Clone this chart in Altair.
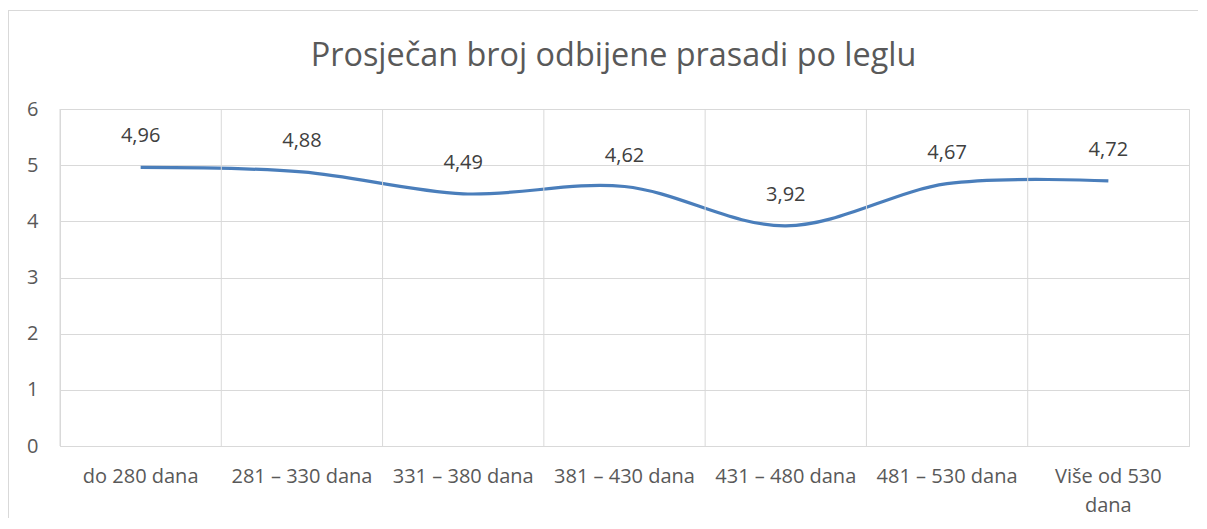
import altair as alt
import pandas as pd

categories = ["do 280 dana", "281 – 330 dana", "331 – 380 dana", "381 – 430 dana",
              "431 – 480 dana", "481 – 530 dana", "Više od 530 dana"]
values = [4.96, 4.88, 4.49, 4.62, 3.92, 4.67, 4.72]
labels = ["4,96", "4,88", "4,49", "4,62", "3,92", "4,67", "4,72"]

df = pd.DataFrame({"cat": categories, "val": values, "lab": labels})

FONT = "Open Sans"
GREY = "#595959"
GRID = "#d9d9d9"

xscale = alt.Scale(domain=categories, paddingInner=0, paddingOuter=0)

xenc = alt.X("cat:N", sort=categories, title=None, scale=xscale,
             axis=alt.Axis(labelAngle=0, labelFontSize=20, labelColor=GREY, labelFont=FONT,
                           labelPadding=20, ticks=False, grid=False, labelLineHeight=29,
                           domainColor=GRID, labelLimit=300, bandPosition=0.5,
                           labelExpr="datum.value == 'Više od 530 dana' ? ['Više od 530', 'dana'] : datum.value"))
yenc = alt.Y("val:Q", title=None,
             scale=alt.Scale(domain=[0, 6]),
             axis=alt.Axis(values=[0, 1, 2, 3, 4, 5, 6], format="d", labelFontSize=20,
                           labelColor=GREY, labelFont=FONT, labelPadding=22, ticks=False,
                           domain=False, gridColor=GRID))

line = alt.Chart(df).mark_line(interpolate="cardinal", color="#4a7ebb", strokeWidth=3.2).encode(
    x=xenc, y=yenc)

vgrid = alt.Chart(df).mark_rule(color=GRID, strokeWidth=1).encode(
    x=alt.X("cat:N", sort=categories, scale=xscale, bandPosition=0),
    y=alt.value(0), y2=alt.value(337))

border = alt.Chart(df).mark_rect(fill=None, stroke=GRID, strokeWidth=1).encode(
    x=alt.value(-51.5), x2=alt.value(1160), y=alt.value(-98.5), y2=alt.value(500))

text = alt.Chart(df).mark_text(dy=-31, fontSize=20, color="#404040", font=FONT).encode(
    x=alt.X("cat:N", sort=categories, scale=xscale), y="val:Q", text="lab:N")

chart = alt.layer(line, vgrid, border, text).properties(
    width=1129, height=337,
    title=alt.TitleParams("Prosječan broj odbijene prasadi po leglu", fontSize=32.4,
                          font=FONT, color=GREY, fontWeight="normal", frame="group",
                          baseline="alphabetic", offset=-88, dx=-11),
    autosize=alt.AutoSizeParams(type="none"),
    padding={"left": 52, "top": 101, "right": 9, "bottom": 72},
).configure_view(stroke=GRID)

chart.save("out.html", embed_options={"renderer": "svg", "actions": False})
